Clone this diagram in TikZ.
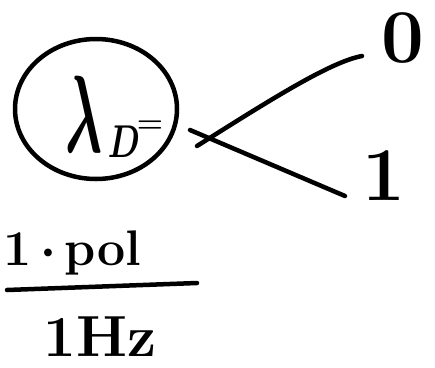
\documentclass[tikz,border=0pt]{standalone}
\usepackage{fix-cm}
\usetikzlibrary{shapes.geometric}
\begin{document}
\begin{tikzpicture}[x=1pt,y=-1pt,
  stroke/.style={line width=4.5pt, line cap=round, line join=round},
  hand/.style={inner sep=0pt, outer sep=0pt, anchor=center},
  big/.style={hand, font=\fontsize{76}{76}\selectfont\bfseries\boldmath},
  mid/.style={hand, font=\fontsize{58}{58}\selectfont\bfseries\boldmath},
  small/.style={hand, font=\fontsize{50}{50}\selectfont\bfseries\boldmath}]
\useasboundingbox (0,0) rectangle (435,367);
% circled lambda_D
\node[ellipse, draw, stroke, minimum width=162pt, minimum height=140pt, inner sep=0pt] (ring) at (96,109) {};
\node[hand, font=\fontsize{110}{110}\selectfont\boldmath, xscale=0.5] (lam) at (84,114) {$\lambda$};
\node[hand, font=\fontsize{46}{46}\selectfont\boldmath, xscale=0.72] (sub) at (124,142) {$D$};
\node[hand, font=\fontsize{30}{30}\selectfont\boldmath] (eq) at (150,127) {$=$};
% branch
\coordinate (s1) at (197,146);
\coordinate (s2) at (190,130);
\node[big] (zero) at (403,38) {0};
\node[big] (one) at (384,176) {1};
\draw[stroke] (s1) .. controls (270,100) and (330,62) .. (362,56);
\draw[stroke] (s2) -- (345,196);
% fraction
\node[small, anchor=south west] (num) at (4,275) {1\,$\cdot$\,pol};
\coordinate (fl) at (7,290);
\coordinate (fr) at (197,283);
\draw[stroke] (fl) -- (fr);
\node[mid] (den) at (100,337) {1Hz};
\end{tikzpicture}
\end{document}
